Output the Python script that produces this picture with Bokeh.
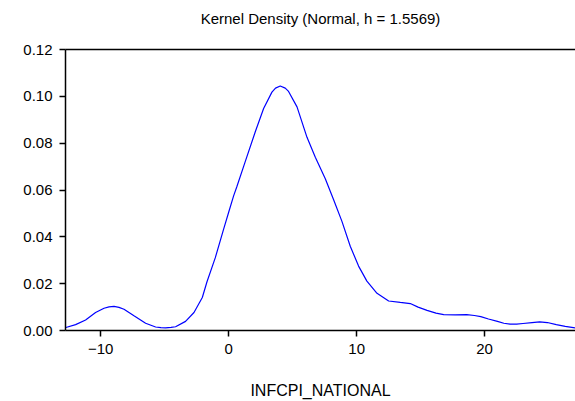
from bokeh.plotting import figure
from bokeh.models import FixedTicker, NumeralTickFormatter, Range1d, LinearAxis
from bokeh.embed import file_html
from bokeh.resources import INLINE

# Kernel density estimate
x_vals = [-12.72, -11.96, -11.18, -10.40, -9.74, -9.35, -8.96, -8.57, -8.18, -7.40,
          -6.49, -5.71, -5.30, -4.93, -4.50, -4.15, -3.37, -2.71, -2.06, -1.70,
          -1.05, -0.40, 0.0, 0.38, 0.65, 1.30, 2.08, 2.73, 3.38, 3.66,
          4.03, 4.42, 4.68, 5.34, 6.12, 6.77, 7.55, 8.20, 8.85, 9.50,
          10.15, 10.80, 11.59, 12.50, 13.41, 14.19, 14.8, 15.5, 16.2, 16.8,
          17.7, 18.6, 19.2, 19.7, 20.3, 21.0, 21.5, 22.0, 22.5, 23.0,
          23.7, 24.3, 24.9, 25.6, 26.3, 27.08]
density = [0.0013, 0.0025, 0.0045, 0.0077, 0.0095, 0.0101, 0.0103, 0.0099, 0.0091, 0.0063,
           0.0031, 0.0015, 0.0012, 0.0011, 0.0013, 0.0016, 0.0039, 0.0077, 0.0141, 0.0207,
           0.0310, 0.0432, 0.0505, 0.0574, 0.0616, 0.0722, 0.0849, 0.0948, 0.1018, 0.1035,
           0.1044, 0.1035, 0.1021, 0.0955, 0.0825, 0.0740, 0.0648, 0.0558, 0.0466, 0.0360,
           0.0275, 0.0211, 0.0159, 0.0126, 0.0120, 0.0115, 0.0100, 0.0086, 0.0074, 0.0068,
           0.0067, 0.0068, 0.0064, 0.0059, 0.0049, 0.0039, 0.0031, 0.0027, 0.0027, 0.0030,
           0.0034, 0.0037, 0.0034, 0.0025, 0.0018, 0.0011]
x_ticks = [-10, 0, 10, 20]
y_ticks = [0.0, 0.02, 0.04, 0.06, 0.08, 0.10, 0.12]
title_text = "Kernel Density (Normal, h = 1.5569)"

FONT = "Liberation Sans"

p = figure(width=575, height=401, output_backend="svg", toolbar_location=None,
           x_range=Range1d(-12.75, 27.1), y_range=Range1d(0.0, 0.12),
           x_axis_label="INFCPI_NATIONAL",
           min_border_left=65, min_border_right=0, min_border_top=49, min_border_bottom=69)

p.outline_line_color = None
p.grid.visible = False
p.background_fill_color = "white"
p.border_fill_color = "white"

for ax in (p.xaxis[0], p.yaxis[0]):
    ax.axis_line_color = "black"
    ax.axis_line_width = 1.5
    ax.major_tick_line_color = "black"
    ax.major_tick_line_width = 1.5
    ax.major_tick_in = 0
    ax.major_tick_out = 6
    ax.minor_tick_line_color = None
    ax.major_label_text_font = FONT
    ax.major_label_text_font_size = "15px"
    ax.major_label_text_color = "black"

p.xaxis[0].major_label_standoff = 7
p.yaxis[0].major_label_standoff = 7
p.xaxis[0].ticker = FixedTicker(ticks=x_ticks)
p.yaxis[0].ticker = FixedTicker(ticks=y_ticks)
p.yaxis[0].formatter = NumeralTickFormatter(format="0.00")
p.xaxis[0].axis_label_text_font = FONT
p.xaxis[0].axis_label_text_font_size = "16px"
p.xaxis[0].axis_label_text_font_style = "normal"
p.xaxis[0].axis_label_text_color = "black"
p.xaxis[0].axis_label_standoff = 25

# top border of the frame, carrying the chart title
top = LinearAxis(ticker=FixedTicker(ticks=[]), axis_label=title_text,
                 axis_line_color="black", axis_line_width=1.5,
                 major_tick_line_color=None, minor_tick_line_color=None,
                 major_label_text_font_size="0px",
                 axis_label_text_font=FONT, axis_label_text_font_size="15px",
                 axis_label_text_font_style="normal", axis_label_text_color="black",
                 axis_label_standoff=23)
p.add_layout(top, "above")

p.line(x_vals, density, line_color="#0000FF", line_width=1.2)

open("out.html", "w").write(file_html(p, INLINE))
